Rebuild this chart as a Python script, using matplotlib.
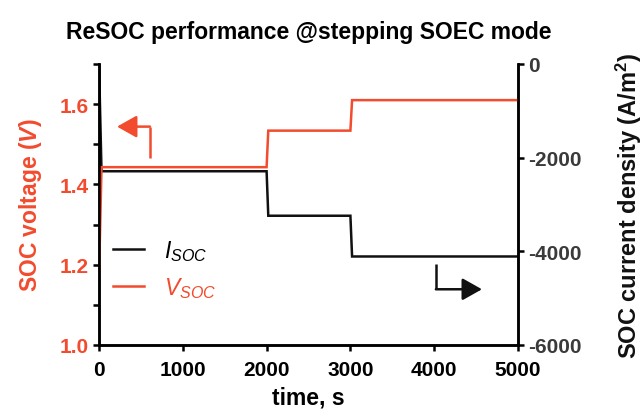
import matplotlib
matplotlib.use("Agg")
import matplotlib.pyplot as plt

plt.rcParams['font.family'] = ['Liberation Sans', 'DejaVu Sans']
plt.rcParams['font.weight'] = 'bold'
plt.rcParams['axes.unicode_minus'] = False
plt.rcParams['mathtext.fontset'] = 'custom'
plt.rcParams['mathtext.it'] = 'Liberation Sans:style=italic:weight=bold'
plt.rcParams['mathtext.rm'] = 'Liberation Sans:weight=bold'
plt.rcParams['mathtext.bf'] = 'Liberation Sans:weight=bold'
plt.rcParams['mathtext.sf'] = 'Liberation Sans:style=italic:weight=normal'

# Data
time_v = [0, 30, 2000, 2020, 3000, 3020, 5000]
voltage = [1.17, 1.443, 1.443, 1.534, 1.534, 1.61, 1.61]
time_i = [0, 30, 2000, 2020, 3000, 3020, 5000]
current = [0, -2290, -2290, -3240, -3240, -4110, -4110]

x_ticks = [0, 1000, 2000, 3000, 4000, 5000]
v_ticks = [1.0, 1.2, 1.4, 1.6]
i_ticks = [0, -2000, -4000, -6000]

RED = '#f24b2e'
BLACK = '#111111'

fig = plt.figure(figsize=(6.44, 4.10), dpi=100)
ax = fig.add_axes([99/644, 64/410, 419/644, 281/410])
ax2 = ax.twinx()

ax.set_zorder(ax2.get_zorder() + 1)
ax.patch.set_visible(False)

lv, = ax.plot(time_v, voltage, color=RED, lw=1.8, solid_joinstyle='miter')
li, = ax2.plot(time_i, current, color=BLACK, lw=1.8, solid_joinstyle='miter')

ax.set_xlim(0, 5000)
ax.set_ylim(1.0, 1.7)
ax2.set_ylim(-6000, 0)
ax.set_xticks(x_ticks)
ax.set_yticks(v_ticks)
ax.set_yticks([1.1, 1.3, 1.5, 1.7], minor=True)
ax2.set_yticks(i_ticks)

for a in (ax, ax2):
    for s in a.spines.values():
        s.set_linewidth(1.8)
    a.spines['top'].set_visible(False)

ax.tick_params(axis='both', which='major', direction='out', length=4.5, width=1.8,
               labelsize=15)
ax.tick_params(axis='y', which='minor', direction='out', length=4.5, width=1.8)
ax.tick_params(axis='y', labelcolor=RED, pad=3)
ax.tick_params(axis='x', pad=6)
ax2.tick_params(axis='y', direction='out', length=4.5, width=1.8, labelsize=15,
                labelcolor='#3a3a3a', pad=3)

ax.set_xlabel('time, s', fontsize=16.5, fontweight='bold', labelpad=5)
ax.set_ylabel('SOC voltage ($\\mathit{V}$)', fontsize=16.5, fontweight='bold',
              color=RED, labelpad=11)
ax2.set_ylabel('SOC current density (A/m$^{\\mathbf{2}}$)', fontsize=17,
               fontweight='bold', color=BLACK, labelpad=23)

ax.set_title('ReSOC performance @stepping SOEC mode', fontsize=16.5,
             fontweight='bold', pad=19)

# Arrows
ax.plot([608, 608], [1.465, 1.544], color=RED, lw=1.8, solid_capstyle='butt')
ax.annotate('', xy=(215, 1.544), xytext=(608, 1.544),
            arrowprops=dict(arrowstyle='-|>,head_length=0.8,head_width=0.45',
                            color=RED, lw=1.8, mutation_scale=15,
                            shrinkA=0, shrinkB=0))
ax2.plot([4020, 4020], [-4270, -4810], color=BLACK, lw=1.8, solid_capstyle='butt')
ax2.annotate('', xy=(4570, -4810), xytext=(4020, -4810),
             arrowprops=dict(arrowstyle='-|>,head_length=0.8,head_width=0.45',
                             color=BLACK, lw=1.8, mutation_scale=15,
                             shrinkA=0, shrinkB=0))

leg = ax.legend([li, lv], ['$\\mathsf{I}_{\\mathsf{SOC}}$', '$\\mathsf{V}_{\\mathsf{SOC}}$'],
                loc='center left', bbox_to_anchor=(0.012, 0.27), borderaxespad=0,
                frameon=False, fontsize=16.5, handlelength=1.35, handletextpad=0.85,
                labelspacing=0.55)
leg.get_texts()[1].set_color(RED)

fig.savefig('out.png', dpi=100)
